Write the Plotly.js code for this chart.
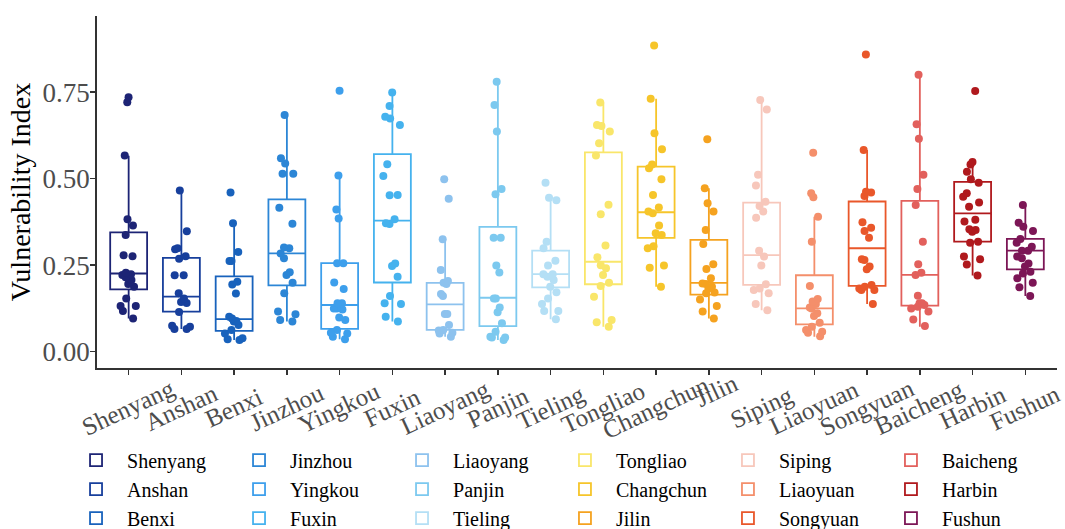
<!DOCTYPE html>
<html><head><meta charset="utf-8">
<script src="https://cdn.plot.ly/plotly-3.0.1.min.js"></script>
<style>html,body{margin:0;padding:0;background:#fff}#chart{width:1065px;height:529px}</style>
</head><body><div id="chart"></div>
<script>
const cities = ['Shenyang','Anshan','Benxi','Jinzhou','Yingkou','Fuxin','Liaoyang','Panjin','Tieling','Tongliao','Changchun','Jilin','Siping','Liaoyuan','Songyuan','Baicheng','Harbin','Fushun'];
const colors = ['#1d2475','#173f9c','#1862bc','#2c86d6','#3d9fec','#45b2ee','#8dc2ee','#7cc9ef','#b4dff5','#f9e66a','#f6c52a','#f5a21f','#f7c7bb','#f48f6b','#e9572a','#e2605c','#b0191d','#7c1656'];

// box statistics
const q1     = [0.180,0.116,0.060,0.192,0.066,0.200,0.063,0.074,0.186,0.195,0.329,0.165,0.193,0.079,0.190,0.133,0.318,0.238];
const median = [0.226,0.159,0.094,0.284,0.135,0.379,0.137,0.156,0.224,0.260,0.403,0.199,0.279,0.125,0.299,0.222,0.400,0.292];
const q3     = [0.345,0.271,0.218,0.440,0.256,0.571,0.199,0.361,0.292,0.576,0.535,0.323,0.431,0.221,0.434,0.436,0.491,0.326];
const lowerFence = [0.096,0.066,0.034,0.087,0.036,0.087,0.043,0.034,0.094,0.072,0.188,0.096,0.120,0.043,0.138,0.072,0.220,0.161];
const upperFence = [0.566,0.466,0.366,0.684,0.509,0.749,0.325,0.780,0.438,0.720,0.731,0.472,0.727,0.390,0.583,0.800,0.548,0.424];

// individual observations (jittered points)
const shenyang = [0.735,0.721,0.567,0.383,0.365,0.337,0.279,0.276,0.228,0.224,0.222,0.215,0.207,0.196,0.188,0.154,0.132,0.132,0.118,0.096];
const anshan = [0.466,0.348,0.299,0.296,0.276,0.269,0.221,0.221,0.169,0.154,0.144,0.141,0.115,0.075,0.072,0.066,0.066];
const benxi = [0.460,0.371,0.288,0.262,0.262,0.202,0.194,0.168,0.101,0.096,0.089,0.087,0.077,0.063,0.053,0.039,0.034,0.036];
const jinzhou = [0.684,0.559,0.544,0.514,0.514,0.416,0.370,0.301,0.299,0.284,0.270,0.230,0.222,0.199,0.169,0.116,0.108,0.092,0.087];
const yingkou = [0.754,0.509,0.411,0.385,0.256,0.256,0.200,0.181,0.140,0.140,0.125,0.125,0.122,0.099,0.092,0.063,0.053,0.055,0.043,0.036];
const fuxin = [0.749,0.710,0.679,0.674,0.655,0.542,0.508,0.453,0.452,0.383,0.371,0.369,0.255,0.248,0.217,0.161,0.140,0.138,0.101,0.087];
const liaoyang = [0.498,0.442,0.325,0.236,0.204,0.199,0.196,0.167,0.161,0.109,0.109,0.077,0.063,0.061,0.055,0.053,0.043];
const panjin = [0.780,0.713,0.636,0.470,0.455,0.329,0.329,0.249,0.229,0.154,0.154,0.128,0.114,0.082,0.058,0.043,0.041,0.041,0.034];
const tieling = [0.488,0.445,0.438,0.318,0.299,0.263,0.249,0.224,0.224,0.217,0.207,0.188,0.172,0.154,0.138,0.118,0.118,0.094];
const tongliao = [0.720,0.655,0.652,0.636,0.602,0.567,0.425,0.397,0.307,0.273,0.250,0.241,0.222,0.199,0.190,0.159,0.092,0.085,0.072];
const changchun = [0.885,0.731,0.631,0.585,0.541,0.530,0.498,0.453,0.417,0.405,0.400,0.365,0.342,0.337,0.305,0.299,0.249,0.243,0.188];
const jilin = [0.614,0.472,0.429,0.405,0.352,0.311,0.253,0.239,0.212,0.197,0.196,0.188,0.183,0.171,0.169,0.151,0.132,0.116,0.096];
const siping = [0.727,0.700,0.511,0.480,0.433,0.421,0.405,0.387,0.292,0.275,0.249,0.195,0.183,0.178,0.169,0.138,0.120];
const liaoyuan = [0.575,0.458,0.446,0.390,0.318,0.190,0.152,0.145,0.138,0.128,0.125,0.111,0.103,0.084,0.072,0.063,0.058,0.055,0.045];
const songyuan = [0.859,0.583,0.462,0.460,0.450,0.374,0.358,0.349,0.329,0.267,0.265,0.246,0.238,0.193,0.188,0.183,0.178,0.178,0.138];
const baicheng = [0.800,0.657,0.615,0.511,0.470,0.424,0.318,0.253,0.228,0.222,0.162,0.140,0.140,0.135,0.130,0.125,0.116,0.093,0.074];
const harbin = [0.753,0.548,0.541,0.520,0.498,0.488,0.458,0.448,0.431,0.419,0.381,0.376,0.354,0.352,0.347,0.318,0.315,0.275,0.267,0.252,0.220];
const fushun = [0.424,0.373,0.361,0.349,0.326,0.315,0.303,0.292,0.292,0.275,0.270,0.255,0.246,0.231,0.226,0.212,0.199,0.186,0.161];
const observations = [shenyang,anshan,benxi,jinzhou,yingkou,fuxin,liaoyang,panjin,tieling,tongliao,changchun,jilin,siping,liaoyuan,songyuan,baicheng,harbin,fushun];

const yTickVals = [0, 0.25, 0.5, 0.75];
const yTitle = 'Vulnerability Index';

const FONT = 'Liberation Serif, Times New Roman, serif';
// legend: 6 columns of 3 (column-major), split into two legends of 3 columns
const boxTraces = cities.map((c, i) => {
  const col = Math.floor(i / 3), row = i % 3;
  return {
    type: 'box', name: c, x: [c],
    q1: [q1[i]], median: [median[i]], q3: [q3[i]],
    lowerfence: [lowerFence[i]], upperfence: [upperFence[i]],
    boxpoints: false, width: 0.7, whiskerwidth: 0,
    line: {color: colors[i], width: 1.8},
    fillcolor: 'rgba(255,255,255,0)',
    legend: col < 3 ? 'legend' : 'legend2',
    legendrank: row * 3 + (col % 3) + 1,
    hoverinfo: 'skip'
  };
});
const pointTraces = cities.map((c, i) => ({
  type: 'box', name: c, x: observations[i].map(() => c), y: observations[i],
  boxpoints: 'all', jitter: 0.6, pointpos: 0, width: 0.7,
  marker: {color: colors[i], size: 8},
  line: {color: 'rgba(0,0,0,0)', width: 0},
  fillcolor: 'rgba(0,0,0,0)',
  showlegend: false, hoverinfo: 'y'
}));

const annotations = cities.map(c => ({
  x: c, xref: 'x', yref: 'paper', y: -0.1136,
  xanchor: 'center', yanchor: 'middle', textangle: -25,
  text: c, showarrow: false,
  xshift: c === 'Jilin' ? 8 : 0, yshift: c === 'Jilin' ? 17 : 0,
  font: {family: FONT, size: 25, color: '#4d4d4d'}
}));

const legendBase = {
  orientation: 'h', xref: 'paper',
  yref: 'container', yanchor: 'top',
  itemwidth: 52, entrywidth: 96, entrywidthmode: 'pixels',
  traceorder: 'normal',
  font: {family: FONT, size: 20, color: '#000'},
  bgcolor: 'rgba(0,0,0,0)', bordercolor: 'rgba(0,0,0,0)'
};

const layout = {
  width: 1065, height: 529,
  margin: {l: 97, r: 8, t: 16, b: 161},
  paper_bgcolor: '#fff', plot_bgcolor: '#fff',
  boxmode: 'overlay',
  showlegend: true,
  font: {family: FONT},
  xaxis: {
    type: 'category', categoryorder: 'array', categoryarray: cities,
    range: [-0.6, 17.6], showgrid: false, zeroline: false,
    showline: true, linecolor: '#333', linewidth: 1.8,
    ticks: 'outside', ticklen: 5, tickcolor: '#333', tickwidth: 1.5,
    showticklabels: false
  },
  yaxis: {
    range: [-0.047, 0.970], showgrid: false, zeroline: false,
    showline: true, linecolor: '#333', linewidth: 1.8,
    ticks: 'outside', ticklen: 5, tickcolor: '#333', tickwidth: 1.5,
    tickvals: yTickVals, tickformat: '.2f', ticklabelstandoff: -5,
    tickfont: {family: FONT, size: 27, color: '#4d4d4d'},
    title: {text: yTitle, font: {family: FONT, size: 28, color: '#000'}}
  },
  legend: Object.assign({}, legendBase, {x: -0.0333, xanchor: 'left', y: 0.167, borderwidth: 0}),
  legend2: Object.assign({}, legendBase, {x: 1.001, xanchor: 'right', y: 0.1955, borderwidth: 15}),
  annotations: annotations
};

Plotly.newPlot('chart', boxTraces.concat(pointTraces), layout, {displayModeBar: false, staticPlot: true});
</script></body></html>
